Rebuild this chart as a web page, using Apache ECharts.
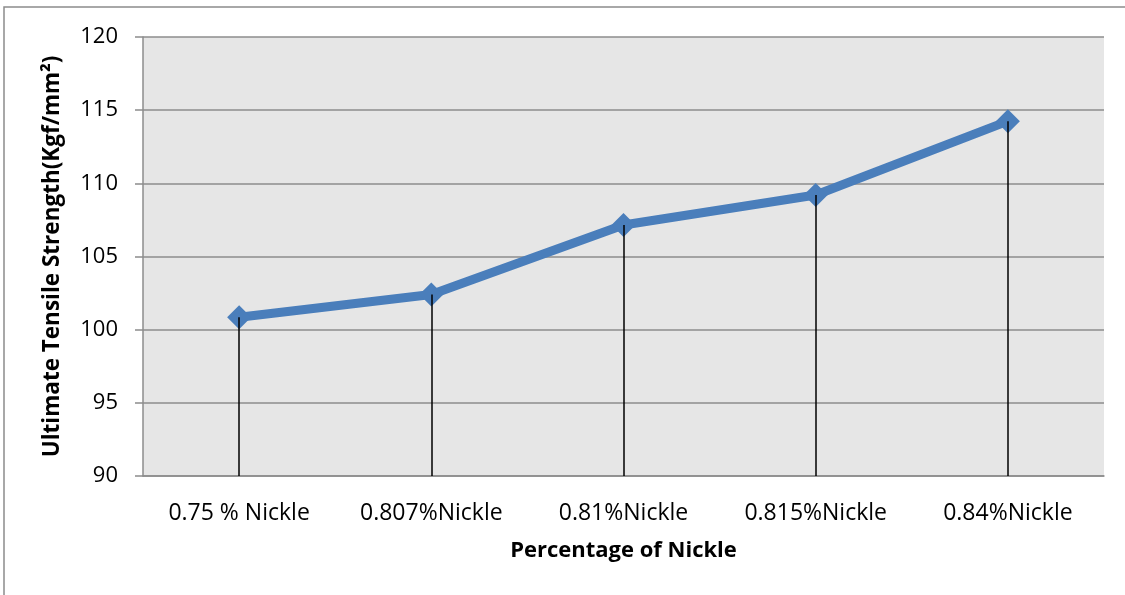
<!DOCTYPE html>
<html>
<head>
<meta charset="utf-8">
<script src="https://cdn.jsdelivr.net/npm/echarts@6/dist/echarts.min.js"></script>
<style>
html,body{margin:0;padding:0;background:#fff;}
#c{width:1125px;height:595px;}
</style>
</head>
<body>
<div id="c"></div>
<script>
const categories = ['0.75 % Nickle', '0.807%Nickle', '0.81%Nickle', '0.815%Nickle', '0.84%Nickle'];
const strengthValues = [100.85, 102.4, 107.15, 109.2, 114.25];
const yTicks = { min: 90, max: 120, interval: 5 };
const xTitle = 'Percentage of Nickle';
const yTitle = 'Ultimate Tensile Strength(Kgf/mm²)';

const FONT = "'Open Sans', sans-serif";
const chart = echarts.init(document.getElementById('c'), null, { renderer: 'canvas' });

const dropLines = strengthValues.map((v, i) => [
  { coord: [i, yTicks.min] },
  { coord: [i, v] }
]);

chart.setOption({
  animation: false,
  backgroundColor: '#ffffff',
  graphic: [{
    type: 'rect',
    shape: { x: 4, y: 7, width: 1140, height: 620 },
    style: { fill: 'none', stroke: '#8c8c8c', lineWidth: 1.5 },
    z: 100
  }],
  grid: {
    left: 143, top: 37, right: 21, bottom: 119,
    show: true, backgroundColor: '#e6e6e6', borderWidth: 0
  },
  xAxis: {
    type: 'category',
    data: categories,
    boundaryGap: true,
    axisLine: { show: true, lineStyle: { color: '#8c8c8c', width: 1.5 } },
    axisTick: { show: false },
    axisLabel: { color: '#000', fontFamily: FONT, fontSize: 23, margin: 26 },
    name: xTitle,
    nameLocation: 'middle',
    nameGap: 64,
    nameTextStyle: { color: '#000', fontFamily: FONT, fontSize: 22, fontWeight: 'bold' }
  },
  yAxis: {
    type: 'value',
    min: yTicks.min, max: yTicks.max, interval: yTicks.interval,
    axisLine: { show: true, lineStyle: { color: '#8c8c8c', width: 1.5 } },
    axisTick: { show: true, length: 8, lineStyle: { color: '#8c8c8c', width: 1.5 } },
    axisLabel: { color: '#000', fontFamily: FONT, fontSize: 22, margin: 25 },
    splitLine: { show: true, lineStyle: { color: '#8c8c8c', width: 1.5 } },
    name: yTitle,
    nameLocation: 'middle',
    nameGap: 79,
    nameRotate: 90,
    nameTextStyle: { color: '#000', fontFamily: FONT, fontSize: 22.5, fontWeight: 'bold' }
  },
  series: [{
    type: 'line',
    data: strengthValues,
    symbol: 'diamond',
    symbolSize: 24,
    lineStyle: { color: '#4a7ebb', width: 9 },
    itemStyle: { color: '#4a7ebb' },
    z: 2,
    markLine: {
      silent: true,
      symbol: ['none', 'none'],
      label: { show: false },
      lineStyle: { color: '#000', width: 1.5, type: 'solid' },
      data: dropLines,
      z: 5
    }
  }]
});
</script>
</body>
</html>
